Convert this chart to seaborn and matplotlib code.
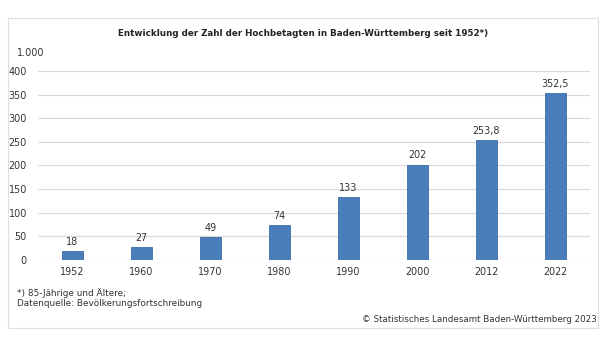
import matplotlib
matplotlib.use("Agg")
import matplotlib.pyplot as plt
from matplotlib.patches import Rectangle
import seaborn as sns
import pandas as pd

years = ["1952", "1960", "1970", "1980", "1990", "2000", "2012", "2022"]
values = [18, 27, 49, 74, 133, 202, 253.8, 352.5]
value_labels = ["18", "27", "49", "74", "133", "202", "253,8", "352,5"]
yticks = [0, 50, 100, 150, 200, 250, 300, 350, 400]

sns.set_theme(style="white")
plt.rcParams['font.family'] = ['DejaVu Sans']

df = pd.DataFrame({"Jahr": years, "Wert": values})

fig = plt.figure(figsize=(6.08, 3.42), dpi=100)
fig.patch.set_facecolor("white")
ax = fig.add_axes([0.0625, 0.2398, 0.9075, 0.5526])

sns.barplot(data=df, x="Jahr", y="Wert", ax=ax, color="#4a7ebb",
            width=0.305, saturation=1, edgecolor="#3c6ca8", linewidth=0.6, zorder=3)

ax.set_ylim(0, 400)
ax.set_xlim(-0.5, len(years) - 0.5)
ax.set_yticks(yticks)
ax.set_yticklabels([str(t) for t in yticks])
ax.yaxis.grid(True, color="#d9d9d9", linewidth=0.9, zorder=0)
ax.set_axisbelow(True)
for s in ax.spines.values():
    s.set_visible(False)
ax.tick_params(axis="both", length=0, labelsize=6.9, colors="#333333")
ax.tick_params(axis="y", pad=8)
ax.tick_params(axis="x", pad=5)
ax.set_xlabel("")
ax.set_ylabel("")

for i, (v, lab) in enumerate(zip(values, value_labels)):
    ax.annotate(lab, (i, v), xytext=(0, 3), textcoords="offset points",
                ha="center", va="bottom", fontsize=6.9, color="#333333")

# outer frame
fig.patches.append(Rectangle((8 / 608, 1 - 328 / 342), 590 / 608, 310 / 342,
                             transform=fig.transFigure, fill=False,
                             edgecolor="#e0e0e0", linewidth=0.9))

fig.text(303 / 608, 1 - 33 / 342,
         "Entwicklung der Zahl der Hochbetagten in Baden-Württemberg seit 1952*)",
         ha="center", va="center", fontsize=6.3, fontweight="bold", color="#222222")
fig.text(17 / 608, 1 - 53 / 342, "1.000", ha="left", va="center",
         fontsize=6.9, color="#333333")
fig.text(17 / 608, 1 - 293 / 342, "*) 85-Jährige und Ältere;", ha="left",
         va="center", fontsize=6.4, color="#333333")
fig.text(17 / 608, 1 - 304 / 342, "Datenquelle: Bevölkerungsfortschreibung",
         ha="left", va="center", fontsize=6.4, color="#333333")
fig.text(597 / 608, 1 - 319 / 342, "© Statistisches Landesamt Baden-Württemberg 2023",
         ha="right", va="center", fontsize=6.3, color="#333333")

fig.savefig("out.png", dpi=100, facecolor="white")
